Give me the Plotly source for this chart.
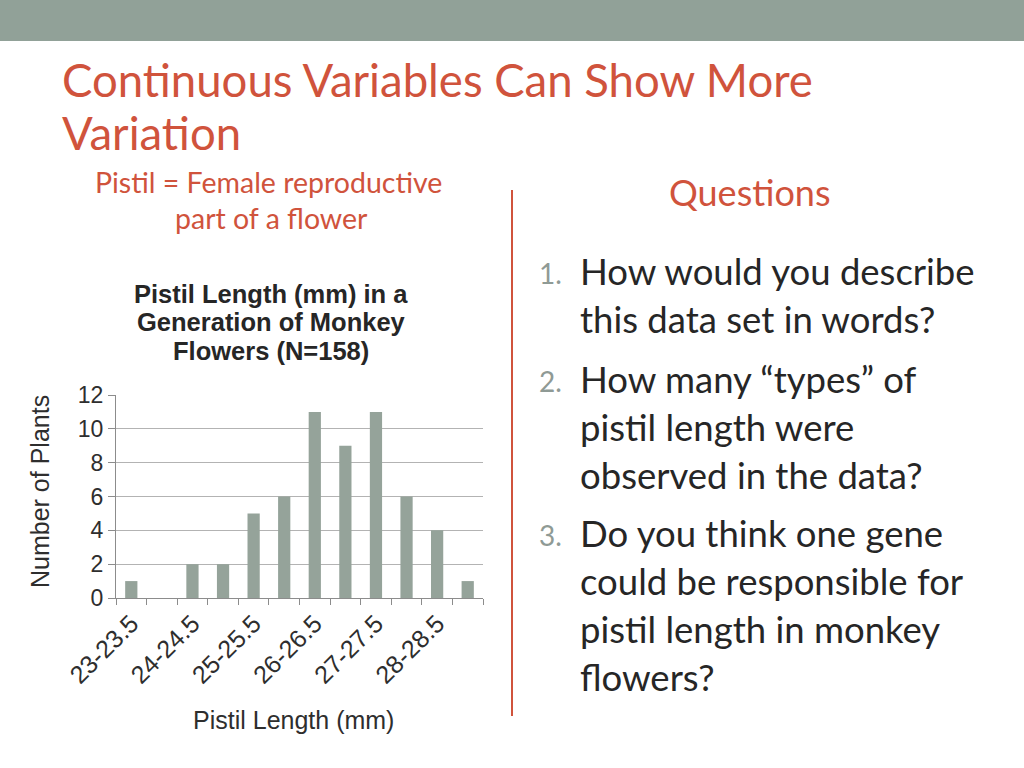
import plotly.graph_objects as go

categories = ["23-23.5", "23.5-24", "24-24.5", "24.5-25", "25-25.5", "25.5-26",
              "26-26.5", "26.5-27", "27-27.5", "27.5-28", "28-28.5", "28.5-29"]
counts = [1, 0, 2, 2, 5, 6, 11, 9, 11, 6, 4, 1]
tick_labels = [c if i % 2 == 0 else "" for i, c in enumerate(categories)]

W, H = 1024, 768
RED = "#d0533c"
BAR = "#95a39a"
TXT = "#262626"
AXT = "#2e2e2e"
AX = "Liberation Sans, Arial, sans-serif"

def px(x):
    return x / W

def py(y):
    return 1 - y / H

fig = go.Figure()
fig.add_trace(go.Bar(x=categories, y=counts, marker_color=BAR, width=0.4,
                     marker_line_width=0, showlegend=False, hoverinfo="x+y"))

fig.update_layout(
    template="none",
    width=W, height=H, autosize=False,
    margin=dict(l=0, r=0, t=0, b=0, pad=0, autoexpand=False),
    paper_bgcolor="white", plot_bgcolor="white",
    font=dict(family=AX, color=AXT),
    xaxis=dict(domain=[px(116), px(483)], type="category", automargin=False,
               tickmode="array", tickvals=categories, ticktext=tick_labels,
               tickson="boundaries", ticks="outside", ticklen=6, tickcolor="#8c8c8c",
               tickangle=-45, tickfont=dict(size=25, color=AXT),
               showline=True, linecolor="#8c8c8c", linewidth=1,
               showgrid=False, zeroline=False),
    yaxis=dict(domain=[py(598), py(395)], range=[0, 12], dtick=2, automargin=False,
               ticks="outside", ticklen=7, tickcolor="#8c8c8c",
               tickfont=dict(size=23, color=AXT),
               showline=True, linecolor="#8c8c8c", linewidth=1,
               showgrid=True, gridcolor="#b3b3b3", gridwidth=1, zeroline=False),
)

shapes = [
    dict(type="rect", xref="paper", yref="paper", x0=0, x1=1, y0=py(41), y1=1,
         fillcolor="#91a198", line_width=0, layer="below"),
    dict(type="line", xref="paper", yref="paper", x0=px(512), x1=px(512), y0=py(190), y1=py(716),
         line=dict(color=RED, width=2)),
]
fig.update_layout(shapes=shapes)

ann = []
def add(text, x, y, size, color, xanchor="left", family="Lato, sans-serif", angle=0):
    ann.append(dict(text=text, x=px(x), y=py(y), xref="paper", yref="paper",
                    xanchor=xanchor, yanchor="middle", showarrow=False, textangle=angle,
                    font=dict(size=size, color=color, family=family), align="center"))

add("Continuous Variables Can Show More", 60, 80, 45.5, RED)
add("Variation", 60, 132, 45.5, RED)
add("Pistil = Female reproductive", 268, 182, 28.5, RED, "center")
add("part of a flower", 271, 218, 28.5, RED, "center")
add("Questions", 749, 192, 36, RED, "center")

add("<b>Pistil Length (mm) in a</b>", 271, 294, 25.5, TXT, "center", AX)
add("<b>Generation of Monkey</b>", 271, 322, 25.5, TXT, "center", AX)
add("<b>Flowers (N=158)</b>", 271, 351, 25.5, TXT, "center", AX)
add("Pistil Length (mm)", 293, 720, 25, AXT, "center", AX)
add("Number of Plants", 40, 492, 25, AXT, "center", AX, -90)

items = [
    ("1.", ["How would you describe", "this data set in words?"], 271),
    ("2.", ["How many \u201ctypes\u201d of", "pistil length were", "observed in the data?"], 379),
    ("3.", ["Do you think one gene", "could be responsible for",
            "pistil length in monkey", "flowers?"], 533),
]
for num, lines, y0 in items:
    add(num, 537, y0 + 2, 28, "#8f9a95")
    for i, line in enumerate(lines):
        add(line, 578, y0 + i * 48, 36.5, TXT)

fig.update_layout(annotations=ann)
fig.write_html("out.html", config={"displayModeBar": False},
               post_script="document.body.style.margin='0';")
